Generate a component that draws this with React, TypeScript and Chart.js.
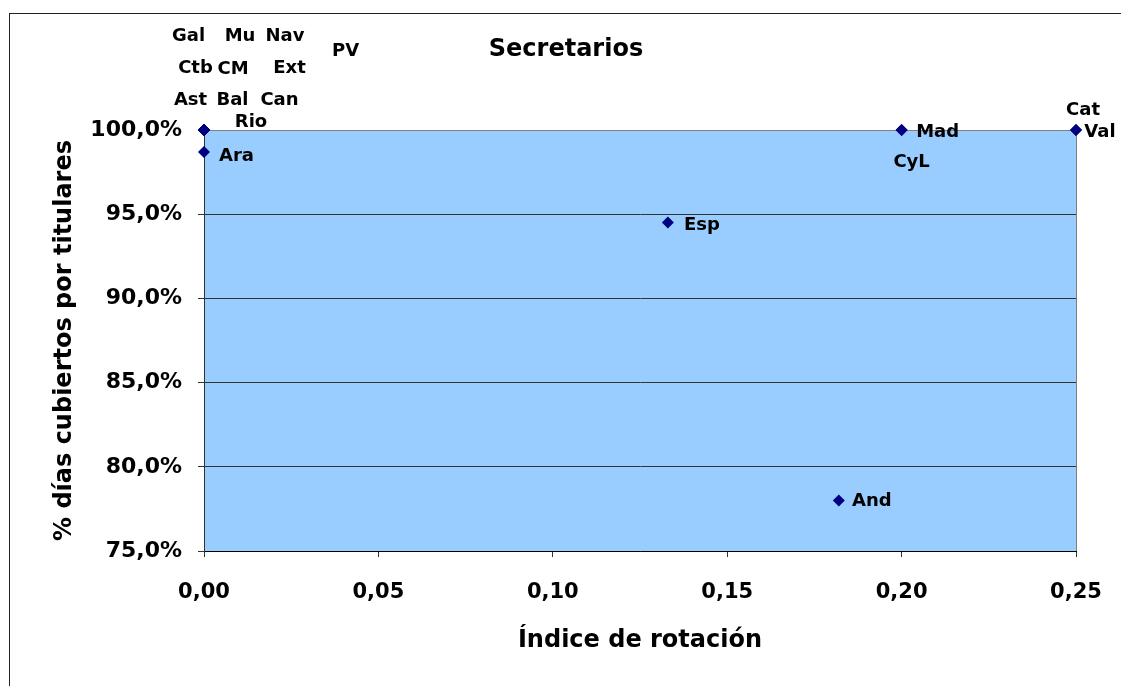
import React, { useEffect, useRef } from "react";
import { Chart, registerables } from "chart.js";

Chart.register(...registerables);

// ---- Data ----
const regions = ["And", "Ara", "Ast", "Bal", "Can", "Ctb", "CyL", "CM", "Cat", "Val", "Ext", "Gal", "Mad", "Mu", "Nav", "PV", "Rio", "Esp"];
const rotationIndex = [0.182, 0, 0, 0, 0, 0, 0.2, 0, 0.25, 0.25, 0, 0, 0.2, 0, 0, 0, 0, 0.133];
const coveragePct = [78.0, 98.7, 100, 100, 100, 100, 100, 100, 100, 100, 100, 100, 100, 100, 100, 100, 100, 94.5];

const chartTitle = "Secretarios";
const xTitle = "Índice de rotación";
const yTitle = "% días cubiertos por titulares";

// Label placement (pixel offsets of label baseline-centre from each point) — style only
const labelOffsets: Record<string, [number, number]> = {
  And: [33, 6],
  Ara: [32.5, 9],
  Ast: [-13.5, -25],
  Bal: [28.5, -25],
  Can: [75.5, -25],
  Ctb: [-8.5, -57],
  CyL: [10, 37],
  CM: [29, -56],
  Cat: [7, -15],
  Val: [24, 7],
  Ext: [85.5, -57],
  Gal: [-15.5, -89],
  Mad: [36, 7],
  Mu: [36, -89],
  Nav: [81, -89],
  PV: [141.5, -74],
  Rio: [47, -3.5],
  Esp: [34, 7],
};

const FONT = "'DejaVu Sans', sans-serif";

export default function App() {
  const ref = useRef<HTMLCanvasElement | null>(null);

  useEffect(() => {
    if (!ref.current) return;

    const bgPlugin = {
      id: "bgFrame",
      beforeDraw(chart: any) {
        const { ctx, chartArea } = chart;
        ctx.save();
        ctx.fillStyle = "#ffffff";
        ctx.fillRect(0, 0, chart.width, chart.height);
        ctx.strokeStyle = "#222222";
        ctx.lineWidth = 1;
        ctx.strokeRect(9.5, 13.5, 3000, 3000);
        ctx.fillStyle = "#99CCFF";
        ctx.fillRect(chartArea.left, chartArea.top, chartArea.right - chartArea.left, chartArea.bottom - chartArea.top);
        // chart title
        ctx.font = `bold 24px ${FONT}`;
        ctx.fillStyle = "#000000";
        ctx.textAlign = "center";
        ctx.textBaseline = "middle";
        ctx.fillText(chartTitle, 566, 50);
        ctx.restore();
      },
      beforeDatasetsDraw(chart: any) {
        const { ctx, chartArea } = chart;
        ctx.save();
        ctx.strokeStyle = "#808080";
        ctx.lineWidth = 1;
        ctx.beginPath();
        const r = Math.round(chartArea.right) + 0.5;
        const t = Math.round(chartArea.top) + 0.5;
        ctx.moveTo(Math.round(chartArea.left), t);
        ctx.lineTo(r, t);
        ctx.lineTo(r, Math.round(chartArea.bottom));
        ctx.stroke();
        ctx.restore();
      },
    };

    const labelPlugin = {
      id: "pointLabels",
      afterDatasetsDraw(chart: any) {
        const { ctx } = chart;
        const meta = chart.getDatasetMeta(0);
        ctx.save();
        ctx.font = `bold 18px ${FONT}`;
        ctx.fillStyle = "#000000";
        ctx.textAlign = "center";
        ctx.textBaseline = "alphabetic";
        meta.data.forEach((el: any, i: number) => {
          const name = regions[i];
          const off = labelOffsets[name] || [30, 6];
          ctx.fillText(name, el.x + off[0], el.y + off[1]);
        });
        ctx.restore();
      },
    };

    const chart = new Chart(ref.current, {
      type: "scatter",
      data: {
        datasets: [
          {
            label: chartTitle,
            data: rotationIndex.map((x, i) => ({ x, y: coveragePct[i] })),
            pointStyle: "rectRot",
            pointRadius: 6,
            pointHoverRadius: 6,
            backgroundColor: "#000080",
            borderColor: "#000080",
            borderWidth: 0,
            clip: false as any,
          },
        ],
      },
      options: {
        responsive: false,
        animation: false,
        devicePixelRatio: 1,
        layout: { padding: { left: 0, right: 45, top: 130, bottom: 0 } },
        plugins: {
          legend: { display: false },
          tooltip: { enabled: false },
          title: { display: false },
        },
        scales: {
          x: {
            type: "linear",
            min: 0,
            max: 0.25,
            afterFit(scale: any) {
              scale.height = 135;
              scale.paddingLeft = 0;
              scale.paddingRight = 0;
            },
            ticks: {
              stepSize: 0.05,
              color: "#000",
              padding: 23,
              maxRotation: 0,
              font: { family: FONT, size: 21, weight: "bold" },
              callback: (v: any) => Number(v).toFixed(2).replace(".", ","),
            },
            grid: {
              drawOnChartArea: false,
              drawTicks: true,
              tickLength: 6,
              color: "#333333",
            },
            border: { display: true, color: "#000000", width: 1 },
            title: {
              display: true,
              text: xTitle,
              color: "#000",
              font: { family: FONT, size: 24, weight: "bold", lineHeight: 1.2 },
              padding: { top: 0, bottom: 31 },
            },
          },
          y: {
            type: "linear",
            min: 75,
            max: 100,
            afterFit(scale: any) {
              scale.width = 204;
              scale.paddingTop = 0;
              scale.paddingBottom = 0;
            },
            ticks: {
              stepSize: 5,
              color: "#000",
              padding: 16,
              font: { family: FONT, size: 22, weight: "bold" },
              callback: (v: any) => Number(v).toFixed(1).replace(".", ",") + "%",
            },
            grid: {
              drawTicks: true,
              tickLength: 6,
              color: (c: any) => (c.tick && c.tick.value === 100 ? "#808080" : "#333333"),
            },
            border: { display: true, color: "#333333", width: 1 },
            title: {
              display: true,
              text: yTitle,
              color: "#000",
              font: { family: FONT, size: 24, weight: "bold", lineHeight: 1.2 },
              padding: { top: 50.5, bottom: 0 },
            },
          },
        },
      },
      plugins: [bgPlugin, labelPlugin],
    });

    return () => chart.destroy();
  }, []);

  return (
    <div style={{ position: "fixed", left: 0, top: 0, width: 1121, height: 686, background: "#fff" }}>
      <canvas ref={ref} width={1121} height={686} style={{ display: "block", width: 1121, height: 686 }} />
    </div>
  );
}
